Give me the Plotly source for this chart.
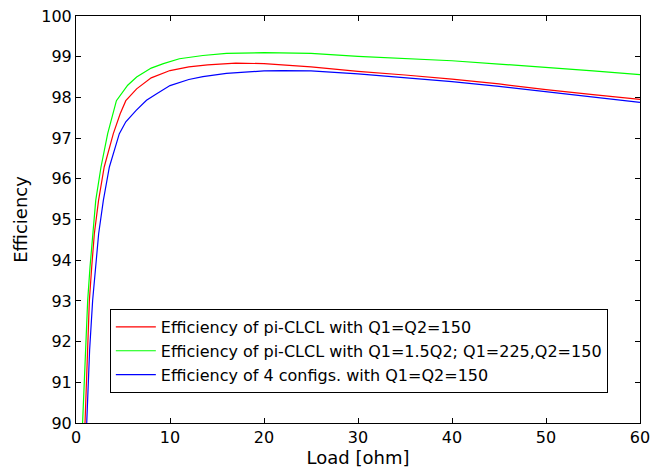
import plotly.graph_objects as go

# Load [ohm] and efficiency [%]
x_red = [0.96, 1.2, 1.42, 1.67, 1.95, 2.4, 3.0, 3.97, 4.7, 5.3, 6.45, 8.0, 10.0, 12.0, 14.0, 17.0, 20.0, 25.0, 30.0, 35.0, 40.0, 45.0, 50.0, 55.0, 60.0]
y_red = [90.0, 91.8, 93.0, 93.83, 94.65, 95.47, 96.29, 97.11, 97.6, 97.92, 98.21, 98.48, 98.66, 98.75, 98.8, 98.84, 98.83, 98.75, 98.64, 98.55, 98.45, 98.33, 98.19, 98.07, 97.95]

x_green = [0.7, 1.0, 1.24, 1.49, 1.77, 2.1, 2.66, 3.37, 4.3, 5.5, 6.45, 8.0, 9.3, 11.0, 13.5, 16.0, 20.0, 25.0, 30.0, 35.0, 40.0, 45.0, 50.0, 55.0, 60.0]
y_green = [90.0, 91.7, 93.0, 93.83, 94.65, 95.47, 96.29, 97.11, 97.92, 98.3, 98.5, 98.72, 98.83, 98.95, 99.03, 99.08, 99.1, 99.08, 99.01, 98.96, 98.9, 98.82, 98.74, 98.65, 98.56]

x_blue = [1.14, 1.45, 1.77, 2.06, 2.41, 2.91, 3.55, 4.61, 5.3, 6.4, 7.5, 8.5, 10.0, 12.0, 13.5, 16.0, 20.0, 22.0, 25.0, 30.0, 35.0, 40.0, 45.0, 50.0, 55.0, 60.0]
y_blue = [90.0, 91.8, 93.01, 93.83, 94.65, 95.47, 96.29, 97.11, 97.4, 97.68, 97.93, 98.08, 98.29, 98.44, 98.51, 98.59, 98.65, 98.66, 98.65, 98.58, 98.49, 98.39, 98.27, 98.14, 98.01, 97.88]

names = [
    "Efficiency of pi-CLCL with Q1=Q2=150",
    "Efficiency of pi-CLCL with Q1=1.5Q2; Q1=225,Q2=150",
    "Efficiency of 4 configs. with Q1=Q2=150",
]
x_ticks = [0, 10, 20, 30, 40, 50, 60]
y_ticks = [90, 91, 92, 93, 94, 95, 96, 97, 98, 99, 100]

FONT = "DejaVu Sans, Liberation Sans, Arial, sans-serif"

fig = go.Figure()
for xs, ys, nm, col, grp in [
    (x_red, y_red, names[0], "#ff0000", "a"),
    (x_green, y_green, names[1], "#00ff00", "b"),
    (x_blue, y_blue, names[2], "#0000ff", "c"),
]:
    fig.add_trace(go.Scatter(x=xs, y=ys, mode="lines", name=nm, legendgroup=grp,
                             line=dict(color=col, width=1.2)))

axis_common = dict(
    showgrid=False, zeroline=False, showline=True, linecolor="black", linewidth=1,
    mirror="ticks", ticks="inside", ticklen=5, tickcolor="black", automargin=False,
    ticklabeloverflow="allow",
    tickfont=dict(family=FONT, size=16, color="black"),
)
fig.update_xaxes(range=[0, 60], tickvals=x_ticks, **axis_common,
                 title=dict(text="Load [ohm]", font=dict(family=FONT, size=18, color="black"), standoff=2))
fig.update_yaxes(range=[90, 100], tickvals=y_ticks, **axis_common,
                 title=dict(text="Efficiency", font=dict(family=FONT, size=18, color="black"), standoff=8))

fig.update_layout(
    width=651, height=472,
    margin=dict(l=76, r=11, t=16, b=49),
    paper_bgcolor="white", plot_bgcolor="white",
    showlegend=True,
    legend=dict(x=0.06, y=0.28, xanchor="left", yanchor="top",
                bgcolor="white", bordercolor="black", borderwidth=1,
                font=dict(family=FONT, size=16, color="black"),
                traceorder="grouped", tracegroupgap=0, itemwidth=40),
)

# remove the default 8px page margin so the figure fills the window exactly
fig.write_html("out.html", config={"displayModeBar": False},
               post_script="document.body.style.margin='0px';")
